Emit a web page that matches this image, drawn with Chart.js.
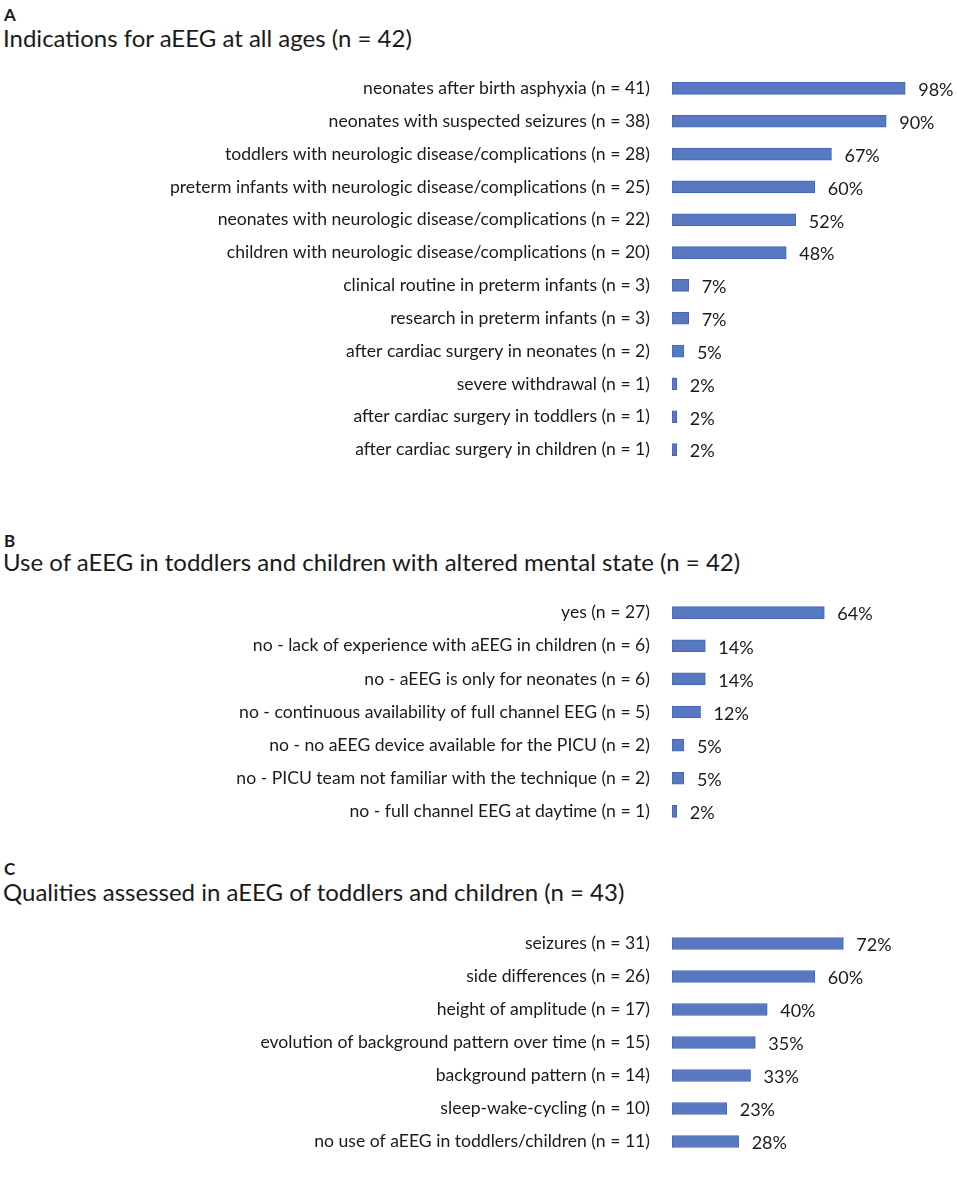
<!DOCTYPE html>
<html>
<head>
<meta charset="utf-8">
<script src="https://cdn.jsdelivr.net/npm/chart.js@4/dist/chart.umd.min.js"></script>
<style>
  body { margin: 0; background: #fff; font-family: Lato, sans-serif; color: #1a1a1a; }
  #page { position: relative; width: 957px; height: 1183px; }
  .letter { position: absolute; left: 4px; font-size: 17px; font-weight: bold; }
  .title { position: absolute; left: 3px; font-size: 24px; }
  .panel { position: absolute; left: 0; width: 957px; }
</style>
</head>
<body>
<div id="page">
  <div class="letter" style="top:4px">A</div>
  <div class="title" style="top:23px">Indications for aEEG at all ages (n = 42)</div>
  <div class="panel" style="top:72px;height:394px"><canvas id="chartA"></canvas></div>

  <div class="letter" style="top:530px">B</div>
  <div class="title" style="top:547px">Use of aEEG in toddlers and children with altered mental state (n = 42)</div>
  <div class="panel" style="top:596px;height:232px"><canvas id="chartB"></canvas></div>

  <div class="letter" style="top:858px">C</div>
  <div class="title" style="top:877px">Qualities assessed in aEEG of toddlers and children (n = 43)</div>
  <div class="panel" style="top:927px;height:231px"><canvas id="chartC"></canvas></div>
</div>
<script>
// panel A
const indications = [
    'neonates after birth asphyxia',
    'neonates with suspected seizures',
    'toddlers with neurologic disease/complications',
    'preterm infants with neurologic disease/complications',
    'neonates with neurologic disease/complications',
    'children with neurologic disease/complications',
    'clinical routine in preterm infants',
    'research in preterm infants',
    'after cardiac surgery in neonates',
    'severe withdrawal',
    'after cardiac surgery in toddlers',
    'after cardiac surgery in children'
];
const indicationCounts = [41, 38, 28, 25, 22, 20, 3, 3, 2, 1, 1, 1];
const indicationPercent = [98, 90, 67, 60, 52, 48, 7, 7, 5, 2, 2, 2];

// panel B
const useAnswers = [
    'yes',
    'no - lack of experience with aEEG in children',
    'no - aEEG is only for neonates',
    'no - continuous availability of full channel EEG',
    'no - no aEEG device available for the PICU',
    'no - PICU team not familiar with the technique',
    'no - full channel EEG at daytime'
];
const useCounts = [27, 6, 6, 5, 2, 2, 1];
const usePercent = [64, 14, 14, 12, 5, 5, 2];

// panel C
const qualities = [
    'seizures',
    'side differences',
    'height of amplitude',
    'evolution of background pattern over time',
    'background pattern',
    'sleep-wake-cycling',
    'no use of aEEG in toddlers/children'
];
const qualityCounts = [31, 26, 17, 15, 14, 10, 11];
const qualityPercent = [72, 60, 40, 35, 33, 23, 28];

Chart.defaults.font.family = 'Lato, sans-serif';
Chart.defaults.color = '#1a1a1a';

const percentLabels = {
    id: 'percentLabels',
    afterDatasetsDraw(chart) {
        const ctx = chart.ctx;
        const meta = chart.getDatasetMeta(0);
        const values = chart.data.datasets[0].data;
        ctx.save();
        ctx.font = '18px Lato, sans-serif';
        ctx.fillStyle = '#1a1a1a';
        ctx.textBaseline = 'middle';
        meta.data.forEach((bar, i) => {
            ctx.fillText(values[i] + '%', bar.x + 13, bar.y + 2);
        });
        ctx.restore();
    }
};

function makeChart(id, names, counts, values) {
    const labels = names.map((n, i) => n + ' (n = ' + counts[i] + ')');
    return new Chart(document.getElementById(id), {
        type: 'bar',
        data: {
            labels: labels,
            datasets: [{
                data: values,
                backgroundColor: '#5878C2',
                borderColor: '#4466B3',
                borderWidth: 1,
                borderSkipped: false,
                barThickness: 12
            }]
        },
        options: {
            indexAxis: 'y',
            responsive: true,
            maintainAspectRatio: false,
            animation: false,
            layout: { padding: { left: 0, right: 47, top: 0, bottom: 0 } },
            plugins: { legend: { display: false }, tooltip: { enabled: false } },
            scales: {
                x: { display: false, min: 0, max: 100 },
                y: {
                    grid: { display: false },
                    border: { display: false },
                    ticks: { padding: 14, font: { size: 17.6 }, color: '#1a1a1a' },
                    afterFit(scale) {
                        scale.width = 672;
                        scale.paddingTop = 0;
                        scale.paddingBottom = 0;
                    }
                }
            }
        },
        plugins: [percentLabels]
    });
}

makeChart('chartA', indications, indicationCounts, indicationPercent);
makeChart('chartB', useAnswers, useCounts, usePercent);
makeChart('chartC', qualities, qualityCounts, qualityPercent);
</script>
</body>
</html>
